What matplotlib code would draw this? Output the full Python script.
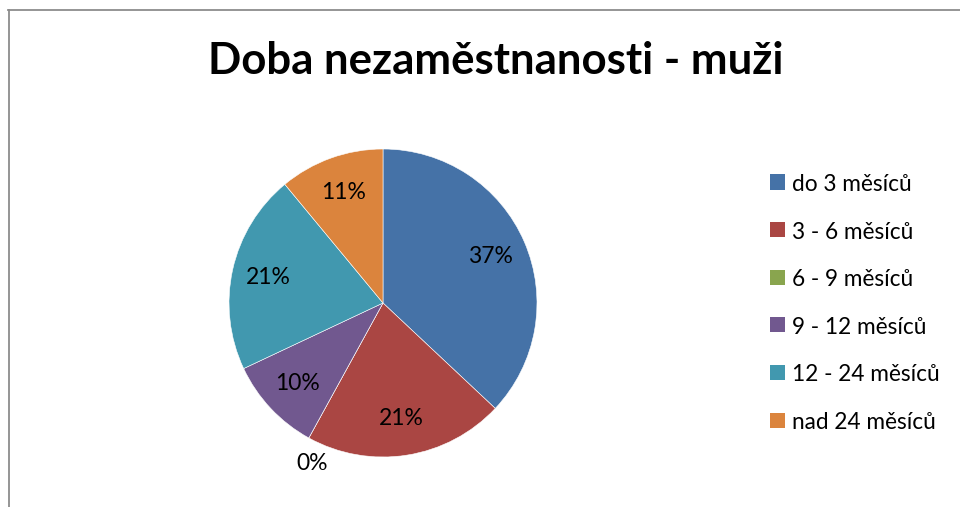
import matplotlib
matplotlib.use("Agg")
import matplotlib.pyplot as plt
from matplotlib.patches import Rectangle
from matplotlib.lines import Line2D
import numpy as np

title = "Doba nezaměstnanosti - muži"
categories = ["do 3 měsíců", "3 - 6 měsíců", "6 - 9 měsíců",
              "9 - 12 měsíců", "12 - 24 měsíců", "nad 24 měsíců"]
shares = [37, 21, 0, 10, 21, 11]
colors = ["#4572A7", "#AA4643", "#89A54E", "#71588F", "#4198AF", "#DB843D"]

W, H = 960, 507
fam = ["Lato", "DejaVu Sans"]

fig = plt.figure(figsize=(W / 100, H / 100), dpi=100)
fig.patch.set_facecolor("white")

# outer frame (only top and left are visible in the crop)
fig.add_artist(Line2D([8.5 / W, 8.5 / W], [0, 1 - 10 / H], color="#8c8c8c", lw=1.3))
fig.add_artist(Line2D([8 / W, 1], [1 - 10 / H, 1 - 10 / H], color="#8c8c8c", lw=1.3))

fig.text(496 / W, 1 - 74 / H, title, ha="center", va="baseline",
         fontsize=31.5, fontweight="bold", family=fam)

# pie, centre (383, 303), radius 154 px
cx, cy, r = 383, 303, 154
span = 1.25
ax = fig.add_axes([(cx - r * span) / W, (H - cy - r * span) / H,
                   2 * r * span / W, 2 * r * span / H])
wedges, _ = ax.pie(shares, colors=colors, startangle=90, counterclock=False,
                   wedgeprops=dict(edgecolor="white", linewidth=0.4))
ax.set_xlim(-span, span)
ax.set_ylim(-span, span)
ax.set_aspect("equal")
ax.axis("off")

for w, v in zip(wedges, shares):
    mid = (w.theta1 + w.theta2) / 2
    if v > 0:
        d = 0.76
    else:
        # empty slice: label sits just outside the rim
        d, mid = 1.14, mid + 5
    a = np.deg2rad(mid)
    ax.text(d * np.cos(a), d * np.sin(a), f"{v}%", ha="center", va="center",
            fontsize=16.5, family=fam, color="black")

# legend
for i, (lab, c) in enumerate(zip(categories, colors)):
    yb = 191 + 47.6 * i
    fig.add_artist(Rectangle((770 / W, 1 - (yb - 1.5) / H), 15 / W, 15 / H,
                             transform=fig.transFigure, facecolor=c, edgecolor="none"))
    fig.text(792 / W, 1 - yb / H, lab, ha="left", va="baseline",
             fontsize=16.3, family=fam, color="black")

fig.savefig("out.png", dpi=100)
